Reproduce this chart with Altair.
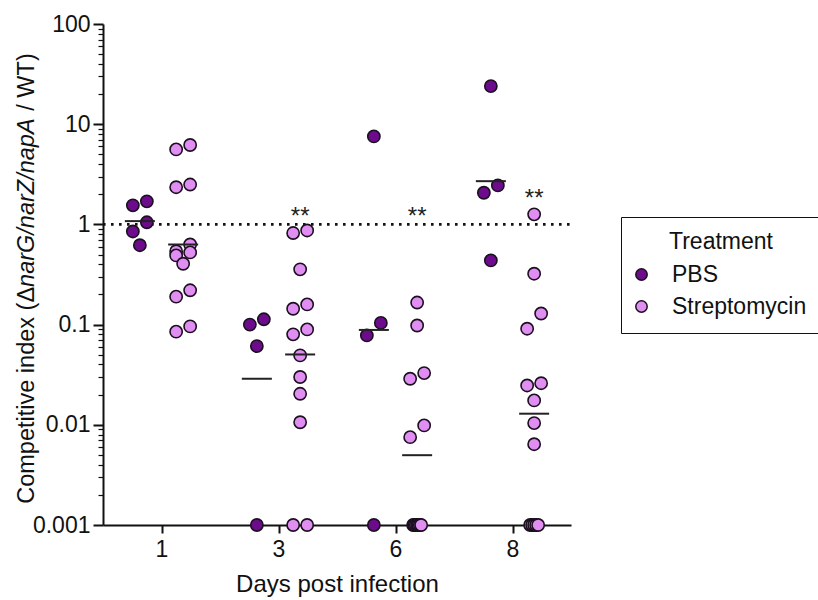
import math
import altair as alt
import pandas as pd

# ---------------- data ----------------
days = [1, 3, 6, 8]
treatments = ["PBS", "Streptomycin"]

pbs_day1 = [1.55, 1.70, 1.05, 0.85, 0.62]
pbs_day3 = [0.100, 0.113, 0.061, 0.001]
pbs_day6 = [7.55, 0.104, 0.078, 0.001]
pbs_day8 = [24.0, 2.45, 2.07, 0.437]

strep_day1 = [6.2, 5.6, 2.5, 2.35, 0.63, 0.54, 0.525, 0.49, 0.405, 0.22, 0.19, 0.096, 0.085]
strep_day3 = [0.87, 0.82, 0.356, 0.159, 0.144, 0.0895, 0.080, 0.0493, 0.030, 0.0204,
              0.0106, 0.001, 0.001]
strep_day6 = [0.166, 0.098, 0.0328, 0.0288, 0.00986, 0.00753,
              0.001, 0.001, 0.001, 0.001, 0.001, 0.001, 0.001]
strep_day8 = [1.26, 0.322, 0.129, 0.091, 0.026, 0.0247, 0.0175, 0.0104, 0.0064,
              0.001, 0.001, 0.001, 0.001, 0.001]

significant_days = [3, 6, 8]          # "**" above streptomycin groups
significance_label = "**"
reference_value = [1]

y_major_ticks = [0.001, 0.01, 0.1, 1, 10, 100]

# ---------------- layout ----------------
W, H = 468, 501
PAD = {"left": 103, "top": 24, "right": 818 - 103 - W, "bottom": 600 - 24 - H}
PXDEC = H / 5.0           # pixels per decade
XUNIT = W / 4.0           # pixels per day slot
GROUP_OFF = 0.185         # slot offset of each treatment
FONT = "Liberation Sans"
FS = 23
PBS_COLOR = "#6C0C8C"
STREP_COLOR = "#E08EF2"
EDGE = "#1c1020"


def swarm(vals):
    """GraphPad-like placement: close pairs side by side, identical clusters squeezed."""
    ys = [-math.log10(v) * PXDEC for v in vals]
    order = sorted(range(len(vals)), key=lambda k: ys[k])
    offs = [0.0] * len(vals)
    i = 0
    while i < len(order):
        j = i
        while j + 1 < len(order) and abs(ys[order[j + 1]] - ys[order[i]]) < 0.5:
            j += 1
        k = j - i + 1
        if k >= 3:
            step = 8.0 / (k - 1)
            for m in range(k):
                offs[order[i + m]] = (m - (k - 1) / 2) * step
            i = j + 1
            continue
        if i + 1 < len(order) and ys[order[i + 1]] - ys[order[i]] < 16:
            offs[order[i]] = 7.0
            offs[order[i + 1]] = -7.0
            i += 2
        else:
            i += 1
    return offs


groups = {
    "PBS": [pbs_day1, pbs_day3, pbs_day6, pbs_day8],
    "Streptomycin": [strep_day1, strep_day3, strep_day6, strep_day8],
}

pts, means = [], []
for idx, day in enumerate(days):
    for treat, sign in (("PBS", -1), ("Streptomycin", 1)):
        vals = groups[treat][idx]
        center = idx + sign * GROUP_OFF
        for v, o in zip(vals, swarm(vals)):
            pts.append({"day": day, "treatment": treat, "value": v, "x": center + o / XUNIT})
        gm = 10 ** (sum(math.log10(v) for v in vals) / len(vals))
        means.append({"day": day, "treatment": treat, "gm": gm,
                      "x1": center - 15 / XUNIT, "x2": center + 15 / XUNIT})

df = pd.DataFrame(pts)
dm = pd.DataFrame(means)

stars = []
for day in significant_days:
    idx = days.index(day)
    gmax = max(groups["Streptomycin"][idx])
    lift = 0 if gmax <= 1 else 8
    stars.append({"x": idx + GROUP_OFF, "y": max(1, gmax) * 10 ** (lift / PXDEC),
                  "t": significance_label})
ds = pd.DataFrame(stars)

# ---------------- scales / axes ----------------
minor = sorted({round(k * 10 ** e, 6) for e in range(-3, 2) for k in range(1, 10)} | {100})
maj = "[" + ",".join(str(v) for v in y_major_ticks) + "]"
is_major = f"indexof({maj}, datum.value) >= 0"

xscale = alt.Scale(domain=[-0.5, 3.5], nice=False, zero=False)
yscale = alt.Scale(type="log", domain=[0.001, 100], nice=False)

day_arr = "[" + ",".join(f"'{d}'" for d in days) + "]"
xaxis = alt.Axis(values=[0, 1, 2, 3], labelExpr=f"{day_arr}[datum.value]",
                 title="Days post infection", grid=False,
                 domainColor="#111", domainWidth=2, tickColor="#111", tickWidth=2,
                 tickSize=8, labelFont=FONT, labelFontSize=FS, labelColor="#111",
                 labelPadding=5, titleFont=FONT, titleFontSize=24, titleFontWeight="normal",
                 titleColor="#111", titlePadding=11)
yaxis = alt.Axis(values=minor, format="~g",
                 labelExpr=f"{is_major} ? datum.label : ''",
                 title=None, grid=False, labelOverlap=False, labelFlush=False,
                 domainColor="#111", domainWidth=2, tickColor="#111",
                 tickSize={"condition": {"test": is_major, "value": 10}, "value": 5},
                 tickWidth={"condition": {"test": is_major, "value": 2}, "value": 1.2},
                 labelFont=FONT, labelFontSize=FS, labelColor="#111", labelPadding=3)

X = lambda f: alt.X(f, scale=xscale, axis=xaxis)
Y = lambda f: alt.Y(f, scale=yscale, axis=yaxis)

ref = alt.Chart(pd.DataFrame({"ref": reference_value})).mark_rule(
    color="#111", strokeWidth=2.6, strokeDash=[2.6, 5.4]).encode(
    x=alt.value(0), x2=alt.value(W), y=Y("ref:Q"))

points = alt.Chart(df).mark_circle(size=150, stroke=EDGE, strokeWidth=1.6, opacity=1).encode(
    x=X("x:Q"), y=Y("value:Q"),
    color=alt.Color("treatment:N",
                    scale=alt.Scale(domain=treatments, range=[PBS_COLOR, STREP_COLOR]),
                    legend=alt.Legend(title="Treatment", orient="none", legendX=518, legendY=193,
                                      titleAnchor="middle", titleFont=FONT, titleFontSize=FS,
                                      titleFontWeight="normal", titleColor="#111", titlePadding=9,
                                      labelFont=FONT, labelFontSize=FS, labelColor="#111",
                                      labelOffset=19, symbolOffset=-5, symbolType="circle",
                                      symbolSize=130, symbolStrokeColor=EDGE,
                                      symbolStrokeWidth=1.5, symbolOpacity=1, rowPadding=8,
                                      padding=14, strokeColor="#111")),
)

mlines = alt.Chart(dm).mark_rule(color="#222", strokeWidth=2).encode(
    x=X("x1:Q"), x2="x2:Q", y=Y("gm:Q"))

startext = alt.Chart(ds).mark_text(font=FONT, fontSize=24, color="#222",
                                   baseline="alphabetic", align="center").encode(
    x=X("x:Q"), y=Y("y:Q"), text="t:N")

# y-axis title with italic gene names (widths from Arial/Liberation metrics)
TFS = 23.5
AW = {"C": 722, "o": 556, "m": 833, "p": 556, "e": 556, "t": 278, "i": 222, "v": 500,
      " ": 278, "n": 556, "d": 556, "x": 500, "(": 333, "Δ": 668, "a": 556,
      "r": 333, "G": 778, "/": 278, "Z": 611, "A": 667, "W": 944, "T": 611, ")": 333}
# (text, style, gap before it in em)
segs = [("Competitive index (Δ", "normal", 0.0), ("narG/narZ/napA", "italic", 0.0),
        ("/ WT)", "normal", 0.33)]
widths = [(g * 1000 + sum(AW[c] for c in s)) / 1000 * TFS for s, _, g in segs]
ystart = H / 2 + 4 + sum(widths) / 2
title_layers = []
pos = ystart
for (s, style, g), w in zip(segs, widths):
    start = pos - g * TFS
    title_layers.append(
        alt.Chart(pd.DataFrame({"t": [s]})).mark_text(
            font=FONT, fontSize=TFS, fontStyle=style, color="#111",
            angle=270, align="left", baseline="middle").encode(
            x=alt.value(-76), y=alt.value(start), text="t:N")
    )
    pos -= w

chart = alt.layer(ref, points, mlines, startext, *title_layers).properties(
    width=W, height=H, padding=PAD, autosize=alt.AutoSizeParams(type="none"),
    background="white"
).configure_view(stroke=None)

chart.save("out.html", embed_options={"renderer": "svg", "actions": False})
